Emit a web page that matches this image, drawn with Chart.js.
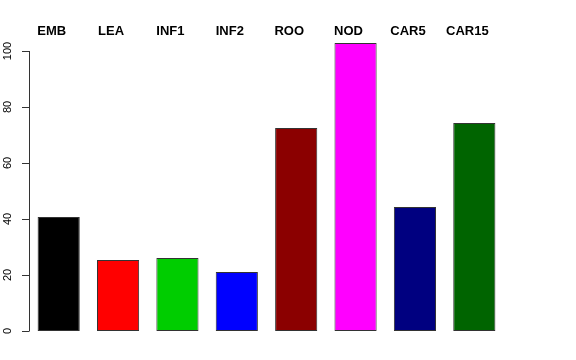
<!DOCTYPE html>
<html>
<head>
<meta charset="utf-8">
<script src="https://cdn.jsdelivr.net/npm/chart.js@4"></script>
<style>
  html, body { margin: 0; padding: 0; background: #fff; }
</style>
</head>
<body>
<canvas id="myChart" width="576" height="360"></canvas>
<script>
const categories = ['EMB', 'LEA', 'INF1', 'INF2', 'ROO', 'NOD', 'CAR5', 'CAR15'];
const values = [40.7, 25.4, 26.1, 21.1, 72.5, 102.9, 44.3, 74.3];
const barColors = ['#000000', '#FF0000', '#00CD00', '#0000FF', '#8B0000', '#FF00FF', '#000080', '#006400'];
const yTicks = [0, 20, 40, 60, 80, 100];

// eje y y etiquetas superiores al estilo de R
const rAxes = {
    id: 'rAxes',
    afterDraw(chart) {
        const c = chart.ctx;
        const x = chart.scales.x;
        const y = chart.scales.y;
        const left = chart.chartArea.left;
        c.save();
        c.strokeStyle = '#333';
        c.lineWidth = 1;
        c.beginPath();
        c.moveTo(left + 0.5, y.getPixelForValue(yTicks[0]));
        c.lineTo(left + 0.5, y.getPixelForValue(yTicks[yTicks.length - 1]));
        yTicks.forEach(t => {
            const py = Math.round(y.getPixelForValue(t)) + 0.5;
            c.moveTo(left - 7, py);
            c.lineTo(left + 0.5, py);
        });
        c.stroke();

        c.fillStyle = '#000';
        c.font = '11px "Liberation Sans", Arial, sans-serif';
        c.textAlign = 'center';
        c.textBaseline = 'middle';
        yTicks.forEach(t => {
            c.save();
            c.translate(7.5, y.getPixelForValue(t));
            c.rotate(-Math.PI / 2);
            c.fillText(String(t), 0, 0);
            c.restore();
        });

        c.font = 'bold 13px "Liberation Sans", Arial, sans-serif';
        c.textBaseline = 'alphabetic';
        categories.forEach((name, i) => {
            c.fillText(name, x.getPixelForValue(i) - 7, 35);
        });
        c.restore();
    }
};

new Chart(document.getElementById('myChart'), {
    type: 'bar',
    data: {
        labels: categories,
        datasets: [{
            data: values,
            backgroundColor: barColors,
            borderColor: '#333',
            borderWidth: 1,
            borderSkipped: false,
            categoryPercentage: 1,
            barPercentage: 0.71,
            clip: false
        }]
    },
    options: {
        responsive: false,
        animation: false,
        layout: { padding: { left: 29, right: 72, top: 51, bottom: 29 } },
        plugins: { legend: { display: false }, tooltip: { enabled: false } },
        scales: {
            x: { display: false },
            y: { display: false, min: 0, max: 100 }
        }
    },
    plugins: [rAxes]
});
</script>
</body>
</html>
